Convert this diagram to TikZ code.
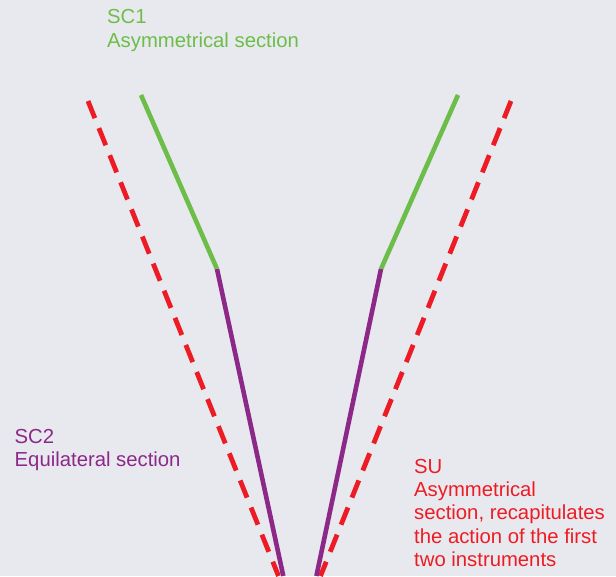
\documentclass[tikz,border=0pt]{standalone}
\usepackage{fontspec}
\setmainfont{Liberation Sans}
\definecolor{bggray}{RGB}{232,233,239}
\definecolor{scgreen}{RGB}{108,190,72}
\definecolor{scpurple}{RGB}{140,40,136}
\definecolor{sured}{RGB}{237,28,36}
\tikzset{
  solidline/.style={line width=4.6pt},
  suline/.style={sured, line width=4.8pt, dash pattern=on 18.5pt off 10.7pt},
  label/.style={anchor=north west, inner sep=0pt, align=left, font=\fontsize{20.3}{23.3}\selectfont}
}
\begin{document}
\begin{tikzpicture}[x=1pt,y=-1pt]
\fill[bggray] (0,0) rectangle (616,576);
\useasboundingbox (0,0) rectangle (616,576);
\node[coordinate] (gl0) at (141,95){};
\node[coordinate] (gl1) at (217,269){};
\node[coordinate] (pl1) at (283.3,576){};
\node[coordinate] (gr0) at (458,95){};
\node[coordinate] (gr1) at (381,269){};
\node[coordinate] (pr1) at (316.4,576){};
\node[coordinate] (rl0) at (88,101){};
\node[coordinate] (rl1) at (278.5,576){};
\node[coordinate] (rr0) at (511,101){};
\node[coordinate] (rr1) at (320.5,576){};
\draw[suline](rl0) -- (rl1);
\draw[suline](rr0) -- (rr1);
\draw[solidline, scgreen](gl0) -- (gl1);
\draw[solidline, scpurple](gl1) -- (pl1);
\draw[solidline, scgreen](gr0) -- (gr1);
\draw[solidline, scpurple](gr1) -- (pr1);
\node[label, scgreen] (sc1) at (107,9.5){SC1\\Asymmetrical section};
\node[label, scpurple] (sc2) at (14.5,428.8){SC2\\Equilateral section};
\node[label, sured] (su) at (414,458.8){SU\\Asymmetrical\\section, recapitulates\\the action of the first\\two instruments};
\end{tikzpicture}
\end{document}
